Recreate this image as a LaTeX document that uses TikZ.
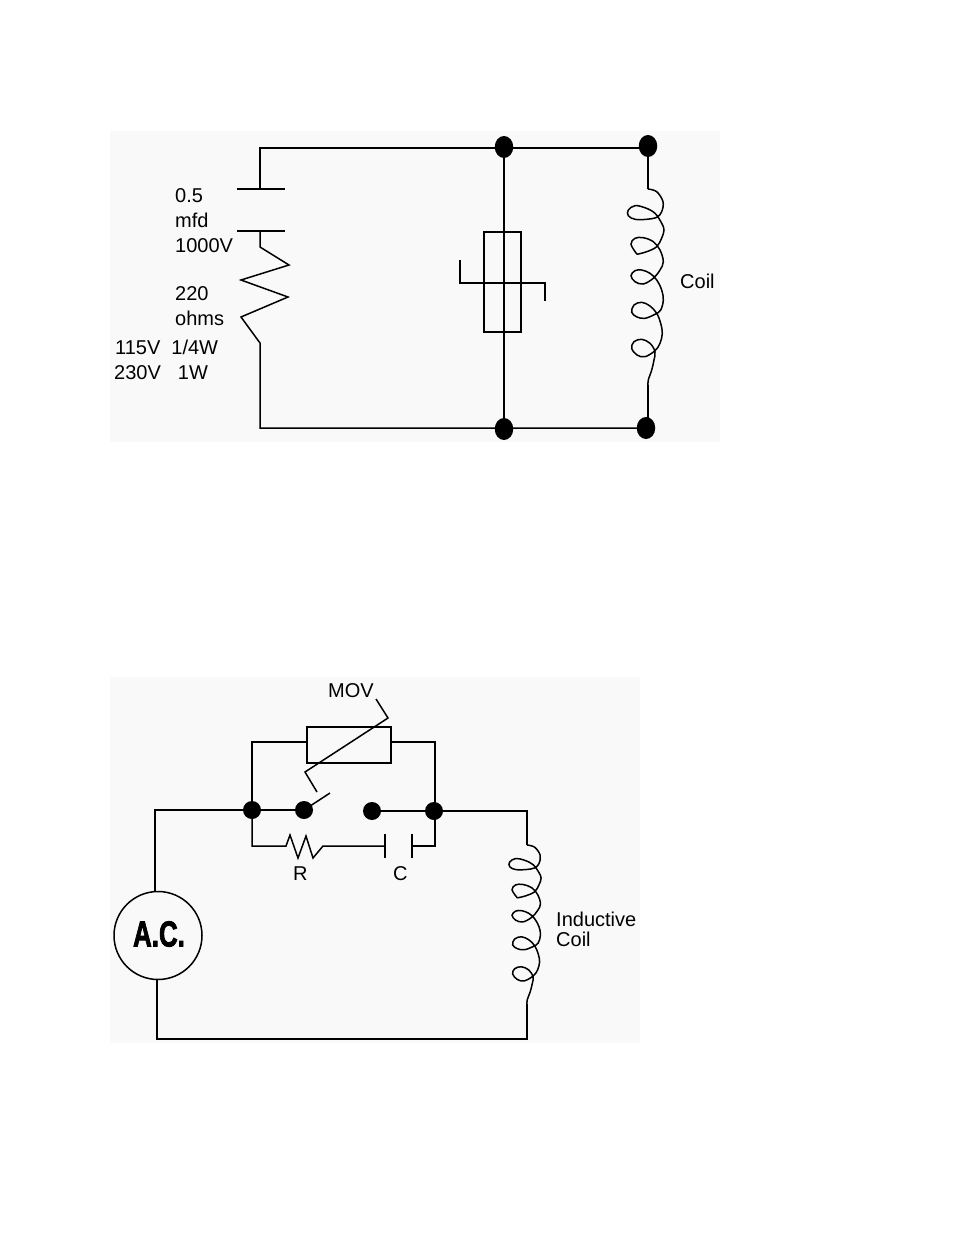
\documentclass[tikz,border=0pt]{standalone}
\usepackage{fontspec}
\setmainfont{Liberation Sans}
\newfontfamily\acfont[FakeBold=2.5]{Liberation Sans}
\usetikzlibrary{shapes.geometric}
\definecolor{panel}{HTML}{F9F9F9}
\tikzset{
  wire/.style={line width=1.5pt,black,line join=miter},
  dotA/.style={ellipse,fill=black,inner sep=0pt,minimum width=18.5pt,minimum height=22pt},
  dotB/.style={circle,fill=black,inner sep=0pt,minimum size=18pt},
  lbl/.style={anchor=base west,inner sep=0pt,font=\fontsize{20pt}{20pt}\selectfont}
}
\newcommand{\coilshape}{%
  \draw[wire] plot[smooth,tension=0.6] coordinates {(0,0) (8.7,2.7) (15,12.7) (13.7,22.7) (8.7,28.3) (-1.3,30.3) (-13,30.3) (-19.7,26.7) (-19.7,21) (-13,16.7) (-3,18.7) (7,24.3) (13.7,34.3) (16,41) (13.7,49) (8.7,57.7) (-1.3,62.7) (-11,65.3)};
  \draw[wire] plot[smooth,tension=0.6] coordinates {(-11,65.3) (-17,55.3) (-13,49.3) (-4.7,48.7) (5.3,52.7) (12,61) (15.3,72.7) (12,81) (5.3,89.3) (-4.7,95) (-13,92.7) (-17,86.7) (-13,81.7) (-6.3,81) (2,84.3) (8.7,91) (13.7,101) (15.3,111) (12.7,121) (7,125.3) (-3,129.3) (-11,128) (-16.3,123.3) (-14,116) (-6.3,113.3) (2,117) (8.7,124.3) (12.7,134.3) (14.3,144.3) (12,154.3) (7,161.7) (-3,167.7) (-11,166) (-16.3,159.3) (-14,152.7) (-6.3,150.3) (2,154.3) (7,162.7) (6,171) (3.7,181) (0.3,191) (0,196)};
}
\begin{document}
\begin{tikzpicture}[x=1pt,y=-1pt]
\useasboundingbox (0,0) rectangle (954,1235);
\fill[white] (0,0) rectangle (954,1235);
\fill[panel] (110,131) rectangle (720,442);
\fill[panel] (110,677) rectangle (640,1043);

% --- upper circuit ---
\node[dotA] (t1) at (504,147) {};
\node[dotA] (t2) at (648,146) {};
\node[dotA] (b1) at (504,429) {};
\node[dotA] (b2) at (646,428) {};
\coordinate (tl) at (260,148);
\coordinate (cp1) at (260,189);
\coordinate (cp2) at (260,231);
\coordinate (rtop) at (260,247);
\coordinate (rbot) at (260,343);
\coordinate (bl) at (260,428);
\coordinate (c1s) at (648,189);
\coordinate (c1e) at (648,385);

\draw[wire] (t2.center) |- (t1.center |- tl) -- (tl) -- (cp1);
\draw[wire] (237,189) -- (285,189);
\draw[wire] (237,231) -- (285,231);
\draw[wire] (cp2) -- (rtop) -- (289,265) -- (241,280) -- (288,297) -- (241,317) -- (rbot) -- (bl) -- (b2.center |- bl) -- (b2.center);
\draw[wire] (t1.center) -- (b1.center);
\node[draw,line width=1.5pt,fill=none,inner sep=0pt,minimum width=37pt,minimum height=100pt] (mov1) at (502.5,282) {};
\draw[wire] (460,260) -- (460,283) -- (545,283) -- (545,301);
\draw[wire] (t2.center) -- (c1s);
\begin{scope}[shift={(648,189)}]
\coilshape
\end{scope}
\draw[wire] (c1e) -- (c1e |- b2.center);

\node[lbl] (a1) at (175,202) {0.5};
\node[lbl] (a2) at (175,227) {mfd};
\node[lbl] (a3) at (175,252) {1000V};
\node[lbl] (a4) at (175,300) {220};
\node[lbl] (a5) at (175,325) {ohms};
\node[lbl] (a6) at (115,354) {115V\hspace{11pt}1/4W};
\node[lbl] (a7) at (114,379) {230V\hspace{17pt}1W};
\node[lbl] (a8) at (680,288) {Coil};

% --- lower circuit ---
\node[dotB] (p1) at (252,810) {};
\node[dotB] (p2) at (304,810) {};
\node[dotB] (p3) at (372,811) {};
\node[dotB] (p4) at (434,811) {};
\node[circle,draw,line width=1.5pt,inner sep=0pt,minimum size=88pt] (ac) at (158,935.5) {};
\node[inner sep=0pt,xscale=0.72,font=\fontsize{36pt}{36pt}\acfont\bfseries] (actext) at (159,934) {A.C.};
\node[draw,line width=1.5pt,inner sep=0pt,minimum width=84pt,minimum height=36pt] (mov2) at (349,745) {};
\coordinate (tl2) at (155,810);
\coordinate (tr2) at (527,811);
\coordinate (c2s) at (527,845);
\coordinate (c2e) at (527,1004);
\coordinate (bl2) at (157,1039);
\coordinate (br2) at (527,1039);

\draw[wire] (ac.north -| tl2) -- (tl2) -- (p2.center);
\draw[wire] (p3.center) -- (tr2) -- (c2s);
\draw[wire] (p1.center) -- (252,742) -- (mov2.west |- 0,742);
\draw[wire] (mov2.east |- 0,742) -- (435,742) -- (435,811);
\draw[wire] (376,699) -- (388,718) -- (305,772) -- (317,792);
\draw[wire] (p2.center) -- (330,793);
\draw[wire] (p1.center) -- (252,846) -- (286,846) -- (290,835) -- (298,858) -- (306,836) -- (313,858) -- (323,846) -- (385,846);
\draw[wire] (385,834) -- (385,858);
\draw[wire] (412,834) -- (412,858);
\draw[wire] (412,846) -- (435,846) -- (435,811);
\begin{scope}[shift={(527,845)},xscale=0.88,yscale=0.81]
\coilshape
\end{scope}
\draw[wire] (c2e) -- (br2) -- (bl2) -- (ac.south -| bl2);

\node[lbl] (m1) at (328,697) {MOV};
\node[lbl] (m2) at (293,880) {R};
\node[lbl] (m3) at (393,880) {C};
\node[lbl] (m4) at (556,926) {Inductive};
\node[lbl] (m5) at (556,946) {Coil};
\end{tikzpicture}
\end{document}
